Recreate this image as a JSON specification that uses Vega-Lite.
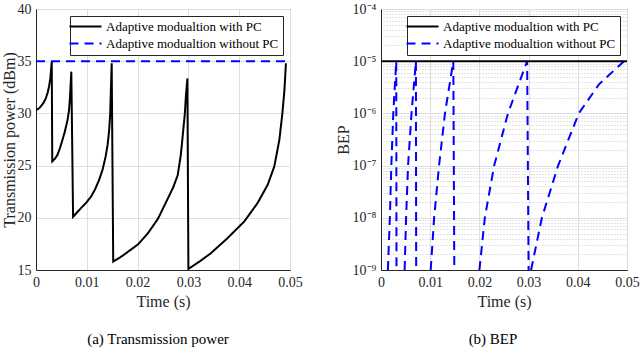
{
  "$schema": "https://vega.github.io/schema/vega-lite/v6.json",
  "autosize": {"type": "pad"},
  "padding": {"left": 0, "top": 1, "right": 0, "bottom": 0},
  "background": "white",
  "config": {
    "font": "Liberation Serif",
    "view": {"stroke": "#262626", "strokeWidth": 1},
    "axis": {
      "labelFont": "Liberation Serif", "labelFontSize": 14, "labelColor": "#262626", "labelFlush": false,
      "titleFont": "Liberation Serif", "titleFontSize": 16, "titleFontWeight": "normal", "titleColor": "#262626",
      "domainColor": "#262626", "gridColor": "#dedede", "ticks": false, "labelPadding": 5, "titlePadding": 4
    },
    "legend": {
      "orient": "top-right", "offset": 7, "fillColor": "white", "strokeColor": "#262626",
      "padding": 4, "labelFont": "Liberation Serif", "labelFontSize": 13, "labelColor": "black",
      "symbolType": "M-3.2,0H3.2", "symbolSize": 100, "symbolStrokeWidth": 2, "symbolOffset": 5,
      "rowPadding": 3, "labelLimit": 400, "labelOffset": 14, "titleFontSize": 0
    },
    "title": {"font": "Liberation Serif", "fontSize": 15, "fontWeight": "normal", "color": "black"},
    "concat": {"spacing": 31}
  },
  "resolve": {
    "scale": {"color": "independent", "strokeDash": "independent", "x": "independent", "y": "independent"},
    "legend": {"color": "independent", "strokeDash": "independent"}
  },
  "datasets": {
    "power": [
      {"s": "A", "g": 1, "t": 0, "v": 30.33},
      {"s": "A", "g": 1, "t": 0.0005, "v": 30.45},
      {"s": "A", "g": 1, "t": 0.0009, "v": 30.64},
      {"s": "A", "g": 1, "t": 0.0014, "v": 30.95},
      {"s": "A", "g": 1, "t": 0.0019, "v": 31.4},
      {"s": "A", "g": 1, "t": 0.0023, "v": 32.0},
      {"s": "A", "g": 1, "t": 0.00256, "v": 32.55},
      {"s": "A", "g": 1, "t": 0.0028, "v": 33.3},
      {"s": "A", "g": 1, "t": 0.0029, "v": 33.8},
      {"s": "A", "g": 1, "t": 0.0031, "v": 34.95},
      {"s": "A", "g": 1, "t": 0.0032, "v": 25.4},
      {"s": "A", "g": 1, "t": 0.0037, "v": 25.65},
      {"s": "A", "g": 1, "t": 0.0042, "v": 26.0},
      {"s": "A", "g": 1, "t": 0.0047, "v": 26.65},
      {"s": "A", "g": 1, "t": 0.0052, "v": 27.45},
      {"s": "A", "g": 1, "t": 0.0057, "v": 28.3},
      {"s": "A", "g": 1, "t": 0.0062, "v": 29.35},
      {"s": "A", "g": 1, "t": 0.0065, "v": 30.3},
      {"s": "A", "g": 1, "t": 0.0067, "v": 31.6},
      {"s": "A", "g": 1, "t": 0.0068, "v": 32.6},
      {"s": "A", "g": 1, "t": 0.00695, "v": 34.0},
      {"s": "A", "g": 1, "t": 0.0073, "v": 20.1},
      {"s": "A", "g": 1, "t": 0.0088, "v": 20.9},
      {"s": "A", "g": 1, "t": 0.0098, "v": 21.4},
      {"s": "A", "g": 1, "t": 0.0108, "v": 22.0},
      {"s": "A", "g": 1, "t": 0.0116, "v": 22.7},
      {"s": "A", "g": 1, "t": 0.0124, "v": 23.6},
      {"s": "A", "g": 1, "t": 0.0131, "v": 24.6},
      {"s": "A", "g": 1, "t": 0.0137, "v": 25.85},
      {"s": "A", "g": 1, "t": 0.0141, "v": 27.0},
      {"s": "A", "g": 1, "t": 0.0144, "v": 28.4},
      {"s": "A", "g": 1, "t": 0.0146, "v": 29.9},
      {"s": "A", "g": 1, "t": 0.0147, "v": 31.6},
      {"s": "A", "g": 1, "t": 0.0149, "v": 34.8},
      {"s": "A", "g": 1, "t": 0.0152, "v": 15.8},
      {"s": "A", "g": 1, "t": 0.017, "v": 16.35},
      {"s": "A", "g": 1, "t": 0.0201, "v": 17.46},
      {"s": "A", "g": 1, "t": 0.022, "v": 18.5},
      {"s": "A", "g": 1, "t": 0.024, "v": 19.9},
      {"s": "A", "g": 1, "t": 0.026, "v": 21.9},
      {"s": "A", "g": 1, "t": 0.027, "v": 22.9},
      {"s": "A", "g": 1, "t": 0.0279, "v": 24.1},
      {"s": "A", "g": 1, "t": 0.0285, "v": 26.0},
      {"s": "A", "g": 1, "t": 0.0288, "v": 27.45},
      {"s": "A", "g": 1, "t": 0.0293, "v": 30.0},
      {"s": "A", "g": 1, "t": 0.0295, "v": 31.6},
      {"s": "A", "g": 1, "t": 0.0298, "v": 33.35},
      {"s": "A", "g": 1, "t": 0.0300, "v": 15.1},
      {"s": "A", "g": 1, "t": 0.0323, "v": 15.85},
      {"s": "A", "g": 1, "t": 0.0344, "v": 16.6},
      {"s": "A", "g": 1, "t": 0.0377, "v": 18.05},
      {"s": "A", "g": 1, "t": 0.0410, "v": 19.65},
      {"s": "A", "g": 1, "t": 0.0436, "v": 21.4},
      {"s": "A", "g": 1, "t": 0.0456, "v": 23.15},
      {"s": "A", "g": 1, "t": 0.0469, "v": 24.9},
      {"s": "A", "g": 1, "t": 0.0479, "v": 27.45},
      {"s": "A", "g": 1, "t": 0.0485, "v": 30.0},
      {"s": "A", "g": 1, "t": 0.0489, "v": 32.2},
      {"s": "A", "g": 1, "t": 0.0492, "v": 34.8},
      {"s": "B", "g": 2, "t": 0, "v": 35},
      {"s": "B", "g": 2, "t": 0.05, "v": 35}
    ],
    "bep": [
      {"s": "A", "g": 0, "t": 0, "v": 1e-5},
      {"s": "A", "g": 0, "t": 0.05, "v": 1e-5},
      {"s": "B", "g": 1, "t": 0.0014, "v": 1e-9},
      {"s": "B", "g": 1, "t": 0.0018, "v": 1e-8},
      {"s": "B", "g": 1, "t": 0.0021, "v": 1e-7},
      {"s": "B", "g": 1, "t": 0.0025, "v": 1e-6},
      {"s": "B", "g": 1, "t": 0.0031, "v": 1e-5},
      {"s": "B", "g": 1, "t": 0.00315, "v": 1e-9},
      {"s": "B", "g": 2, "t": 0.0048, "v": 1e-9},
      {"s": "B", "g": 2, "t": 0.0051, "v": 1e-8},
      {"s": "B", "g": 2, "t": 0.0055, "v": 1e-7},
      {"s": "B", "g": 2, "t": 0.0062, "v": 1e-6},
      {"s": "B", "g": 2, "t": 0.0071, "v": 1e-5},
      {"s": "B", "g": 2, "t": 0.00715, "v": 1e-9},
      {"s": "B", "g": 3, "t": 0.0101, "v": 1e-9},
      {"s": "B", "g": 3, "t": 0.0108, "v": 1e-8},
      {"s": "B", "g": 3, "t": 0.0118, "v": 1e-7},
      {"s": "B", "g": 3, "t": 0.0130, "v": 1e-6},
      {"s": "B", "g": 3, "t": 0.0147, "v": 1e-5},
      {"s": "B", "g": 3, "t": 0.0149, "v": 1e-9},
      {"s": "B", "g": 4, "t": 0.0200, "v": 1e-9},
      {"s": "B", "g": 4, "t": 0.0211, "v": 1e-8},
      {"s": "B", "g": 4, "t": 0.0230, "v": 1e-7},
      {"s": "B", "g": 4, "t": 0.0258, "v": 1e-6},
      {"s": "B", "g": 4, "t": 0.0297, "v": 1e-5},
      {"s": "B", "g": 4, "t": 0.0300, "v": 1e-9},
      {"s": "B", "g": 5, "t": 0.0305, "v": 1e-9},
      {"s": "B", "g": 5, "t": 0.0327, "v": 1e-8},
      {"s": "B", "g": 5, "t": 0.0360, "v": 1e-7},
      {"s": "B", "g": 5, "t": 0.0402, "v": 1e-6},
      {"s": "B", "g": 5, "t": 0.0443, "v": 3.6e-6},
      {"s": "B", "g": 5, "t": 0.0494, "v": 1e-5}
    ]
  },
  "hconcat": [
    {
      "width": 254,
      "height": 261,
      "title": {"text": "(a) Transmission power", "orient": "bottom", "offset": 23, "dx": -5},
      "data": {"name": "power"},
      "mark": {"type": "line", "strokeWidth": 2, "clip": true},
      "encoding": {
        "x": {"field": "t", "type": "quantitative", "scale": {"domain": [0, 0.05], "nice": false},
          "axis": {"title": "Time (s)", "values": [0, 0.01, 0.02, 0.03, 0.04, 0.05], "format": "~g", "titlePadding": 4}},
        "y": {"field": "v", "type": "quantitative", "scale": {"domain": [15, 40], "nice": false, "zero": false},
          "axis": {"title": "Transmission power (dBm)", "values": [15, 20, 25, 30, 35, 40], "titlePadding": 0}},
        "color": {"field": "s", "type": "nominal",
          "scale": {"domain": ["A", "B"], "range": ["#000000", "#0000ff"]},
          "legend": {"title": null, "labelExpr": "datum.value == 'A' ? 'Adaptive modualtion with PC' : 'Adaptive modualtion without PC'"}},
        "strokeDash": {"field": "s", "type": "nominal",
          "scale": {"domain": ["A", "B"], "range": [[1, 0], [9, 6]]},
          "legend": {"title": null, "labelExpr": "datum.value == 'A' ? 'Adaptive modualtion with PC' : 'Adaptive modualtion without PC'"}},
        "detail": {"field": "g", "type": "nominal"}
      }
    },
    {
      "width": 246,
      "height": 261,
      "title": {"text": "(b) BEP", "orient": "bottom", "offset": 23, "dx": -11},
      "data": {"name": "bep"},
      "encoding": {
        "x": {"field": "t", "type": "quantitative", "scale": {"domain": [0, 0.05], "nice": false},
          "axis": {"title": "Time (s)", "values": [0, 0.01, 0.02, 0.03, 0.04, 0.05], "format": "~g", "titlePadding": 4}},
        "color": {"field": "s", "type": "nominal",
          "scale": {"domain": ["A", "B"], "range": ["#000000", "#0000ff"]},
          "legend": {"title": null, "labelExpr": "datum.value == 'A' ? 'Adaptive modualtion with PC' : 'Adaptive modualtion without PC'"}},
        "strokeDash": {"field": "s", "type": "nominal",
          "scale": {"domain": ["A", "B"], "range": [[1, 0], [9, 6]]},
          "legend": {"title": null, "labelExpr": "datum.value == 'A' ? 'Adaptive modualtion with PC' : 'Adaptive modualtion without PC'"}},
        "detail": {"field": "g", "type": "nominal"}
      },
      "layer": [
        {
          "transform": [{"filter": "datum.s == 'B'"}],
          "mark": {"type": "line", "strokeWidth": 2, "clip": true},
          "encoding": {
            "y": {"field": "v", "type": "quantitative", "scale": {"type": "log", "domain": [1e-9, 1e-4], "nice": false},
              "axis": {"orient": "left", "title": "BEP", "titlePadding": 1, "values": [1e-9, 1e-8, 1e-7, 1e-6, 1e-5, 1e-4],
                "labelExpr": "['10⁻⁹','10⁻⁸','10⁻⁷','10⁻⁶','10⁻⁵','10⁻⁴'][round(log(datum.value)/LN10)+9]"}}
          }
        },
        {
          "transform": [{"filter": "datum.s == 'A'"}],
          "mark": {"type": "line", "strokeWidth": 2, "clip": true},
          "encoding": {
            "y": {"field": "v", "type": "quantitative", "scale": {"type": "log", "domain": [1e-9, 1e-4], "nice": false},
              "axis": {"orient": "right", "title": null, "labels": false, "domain": false, "ticks": false,
                "grid": true, "gridDash": [1, 2], "gridColor": "#c8c8c8",
                "values": [2e-9, 3e-9, 4e-9, 5e-9, 6e-9, 7e-9, 8e-9, 9e-9, 2e-8, 3e-8, 4e-8, 5e-8, 6e-8, 7e-8, 8e-8, 9e-8, 2e-7, 3e-7, 4e-7, 5e-7, 6e-7, 7e-7, 8e-7, 9e-7, 2e-6, 3e-6, 4e-6, 5e-6, 6e-6, 7e-6, 8e-6, 9e-6, 2e-5, 3e-5, 4e-5, 5e-5, 6e-5, 7e-5, 8e-5, 9e-5]}}
          }
        }
      ]
    }
  ]
}
